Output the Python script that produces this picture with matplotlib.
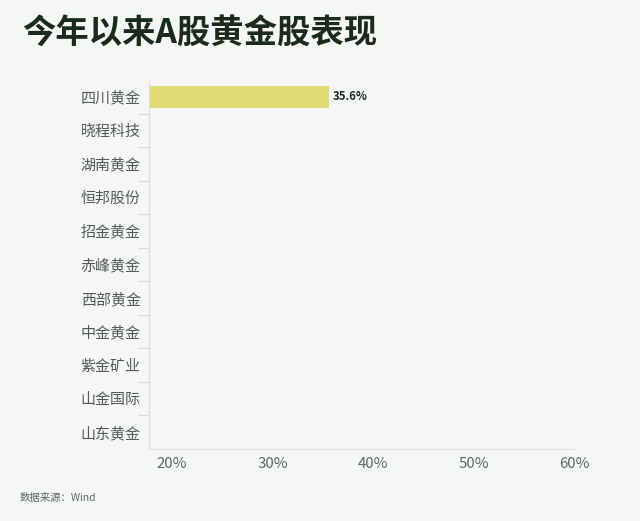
import numpy as np
import matplotlib
matplotlib.use('Agg')
import matplotlib.pyplot as plt

plt.rcParams['font.family'] = ['Noto Sans CJK SC', 'DejaVu Sans']

# 数据（动画帧中只显示了第一根柱子）
companies = ['四川黄金', '晓程科技', '湖南黄金', '恒邦股份', '招金黄金', '赤峰黄金',
             '西部黄金', '中金黄金', '紫金矿业', '山金国际', '山东黄金']
returns = [35.6, np.nan, np.nan, np.nan, np.nan, np.nan,
           np.nan, np.nan, np.nan, np.nan, np.nan]
xticks = [20, 30, 40, 50, 60]

bg = '#f5f7f4'
fig = plt.figure(figsize=(6.4, 5.21), dpi=100, facecolor=bg)
ax = fig.add_axes([0.2328, 0.1382, 0.897 - 0.2328, 0.8464 - 0.1382], facecolor=bg)

x0 = 17.7
y = np.arange(len(companies))
vals = np.array(returns)
ok = ~np.isnan(vals)
ax.barh(y[ok], vals[ok] - x0, left=x0, height=0.66, color='#e0dc74')
for yi, v in zip(y[ok], vals[ok]):
    ax.text(v + 0.4, yi, f'{v:.1f}%', va='center', ha='left',
            fontsize=8.2, fontweight='bold', color='#1f2a24')

ax.set_xlim(x0, 60)
ax.set_ylim(len(companies) - 0.5, -0.5)
ax.set_yticks(y)
ax.set_yticklabels(companies, fontsize=10.8, color='#555a58')
ax.set_yticks(np.arange(0.5, len(companies) - 1, 1), minor=True)
ax.tick_params(axis='y', which='major', length=0, pad=6)
ax.tick_params(axis='y', which='minor', length=8, color='#d5dad6', width=0.8)

ax.set_xticks(xticks)
ax.set_xticklabels([f'{t}%' for t in xticks], fontsize=10.8, color='#5a6864')
ax.tick_params(axis='x', length=0, pad=6)

for s in ['top', 'right']:
    ax.spines[s].set_visible(False)
for s in ['left', 'bottom']:
    ax.spines[s].set_color('#dde1dd')
    ax.spines[s].set_linewidth(0.8)

fig.text(22 / 640, 1 - 33 / 521, '今年以来A股黄金股表现', fontsize=24, fontweight='bold',
         color='#1b2a21', va='center', ha='left')
fig.text(20 / 640, 1 - 498 / 521, '数据来源：Wind', fontsize=7.5, color='#5f6664',
         va='center', ha='left')

fig.savefig('out.png', dpi=100, facecolor=bg)
